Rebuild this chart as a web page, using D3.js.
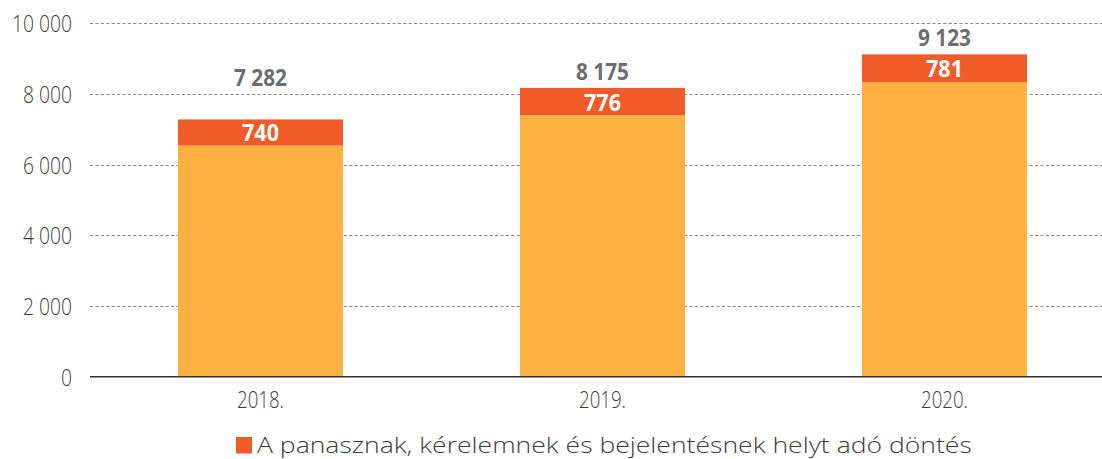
<!DOCTYPE html>
<html>
<head>
<meta charset="utf-8">
<script src="https://cdn.jsdelivr.net/npm/d3@7"></script>
<style>
  html, body { margin: 0; padding: 0; background: #fff; }
  svg { display: block; }
</style>
</head>
<body>
<svg id="chart" width="1102" height="459"></svg>
<script>
// Yearly decisions: totals and the share upholding complaints/requests/reports
const years = ["2018.", "2019.", "2020."];
const totals = [7282, 8175, 9123];
const upheld = [740, 776, 781];
const yTicks = [0, 2000, 4000, 6000, 8000, 10000];
const legendLabel = "A panasznak, kérelemnek és bejelentésnek helyt adó döntés";

const rest = totals.map((t, i) => t - upheld[i]);

const W = 1102, H = 459;
const svg = d3.select("#chart");

const COLORS = { rest: "#fbb040", upheld: "#f15a29", total: "#6d6e71", text: "#3c3c3c" };
const LIGHT = "'Open Sans', 'Lato', sans-serif";
const BOLD = "'Open Sans', 'Roboto', sans-serif";

const huLocale = d3.formatLocale({ decimal: ",", thousands: " ", grouping: [3], currency: ["", ""] });
const fmt = huLocale.format(",d");

const x = d3.scaleBand().domain(years).range([89.5, 1115.5]).paddingInner(0.5175).paddingOuter(0.2588);
const y = d3.scaleLinear().domain([0, 10000]).range([376.7, 23.4]);

// Text styles: the face is condensed/widened so that a sample string spans a set width
const STYLES = {
  tick:   { family: LIGHT, weight: 300, size: 24,   fill: COLORS.text,  sample: "10 000", width: 60 },
  year:   { family: LIGHT, weight: 300, size: 23,   fill: COLORS.text,  sample: "2018.",  width: 47 },
  total:  { family: BOLD,  weight: 700, size: 24,   fill: COLORS.total, sample: "7 282",  width: 53 },
  inner:  { family: BOLD,  weight: 700, size: 24,   fill: "#fff",       sample: "740",    width: 37 },
  legend: { family: LIGHT, weight: 300, size: 22,   fill: COLORS.text,  sample: legendLabel, width: 715 }
};

function styleText(t, s) {
  return t.attr("font-family", s.family).attr("font-weight", s.weight)
    .attr("font-size", s.size).attr("fill", s.fill);
}
Object.values(STYLES).forEach(s => {
  const probe = styleText(svg.append("text"), s).text(s.sample);
  s.sx = s.width / probe.node().getComputedTextLength();
  probe.remove();
});

function ctext(g, px, py, str, s, anchor) {
  return styleText(g.append("text"), s)
    .attr("transform", `translate(${px},${py}) scale(${s.sx},1)`)
    .attr("text-anchor", anchor || "middle")
    .text(str);
}

// dotted gridlines
svg.append("g")
  .selectAll("line")
  .data(yTicks.filter(d => d > 0))
  .join("line")
  .attr("x1", 90).attr("x2", W)
  .attr("y1", d => Math.round(y(d)) + 0.5).attr("y2", d => Math.round(y(d)) + 0.5)
  .attr("stroke", "#8a8a8a")
  .attr("stroke-width", 1.2)
  .attr("stroke-dasharray", "3.2,2.2");

// y axis labels
const yAxis = d3.axisLeft(y).tickValues(yTicks).tickSize(0).tickPadding(0).tickFormat(fmt);
const ya = svg.append("g").attr("transform", "translate(72,0)").call(yAxis);
ya.select(".domain").remove();
ya.selectAll(".tick text").remove();
ya.selectAll(".tick").each(function (d) {
  ctext(d3.select(this), 0, 8.5, fmt(d), STYLES.tick, "end");
});

// stacked bars
const bars = svg.append("g");
bars.selectAll("rect.rest")
  .data(years)
  .join("rect")
  .attr("class", "rest")
  .attr("x", d => x(d))
  .attr("width", x.bandwidth())
  .attr("y", (d, i) => y(rest[i]))
  .attr("height", (d, i) => y(0) - y(rest[i]))
  .attr("fill", COLORS.rest);

bars.selectAll("rect.upheld")
  .data(years)
  .join("rect")
  .attr("class", "upheld")
  .attr("x", d => x(d))
  .attr("width", x.bandwidth())
  .attr("y", (d, i) => y(totals[i]))
  .attr("height", (d, i) => y(rest[i]) - y(totals[i]))
  .attr("fill", COLORS.upheld);

// baseline
svg.append("line")
  .attr("x1", 90).attr("x2", W)
  .attr("y1", y(0)).attr("y2", y(0))
  .attr("stroke", "#333").attr("stroke-width", 1.6);

// value labels
const labels = svg.append("g");
const totalLift = [33, 8, 8];
years.forEach((yr, i) => {
  const cx = x(yr) + x.bandwidth() / 2;
  ctext(labels, cx, y(totals[i]) - totalLift[i], fmt(totals[i]), STYLES.total);
  const mid = (y(totals[i]) + y(rest[i])) / 2;
  ctext(labels, cx, mid + 9, fmt(upheld[i]), STYLES.inner);
});

// x axis labels
const xAxis = d3.axisBottom(x).tickSize(0).tickPadding(0);
const xa = svg.append("g").attr("transform", `translate(0,${y(0)})`).call(xAxis);
xa.select(".domain").remove();
xa.selectAll(".tick text").remove();
xa.selectAll(".tick").each(function (d) {
  ctext(d3.select(this), 0, 31.5, d, STYLES.year);
});

// legend
const lg = svg.append("g").attr("transform", "translate(236,437)");
lg.append("rect").attr("width", 16).attr("height", 16.5).attr("fill", COLORS.upheld);
ctext(lg, 21, 16, legendLabel, STYLES.legend, "start");
</script>
</body>
</html>
